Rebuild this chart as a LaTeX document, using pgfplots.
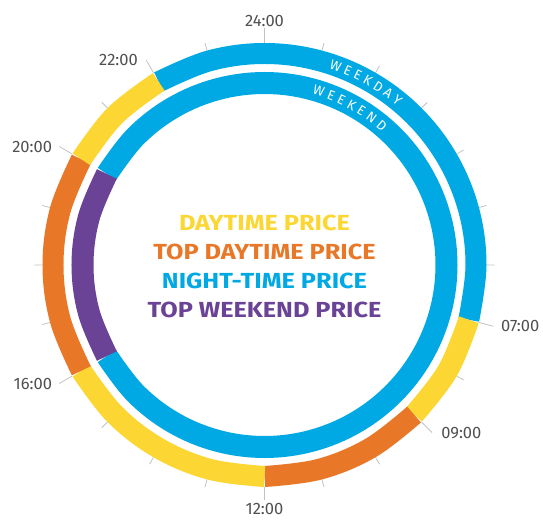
\documentclass[border=0pt]{standalone}
\usepackage{pgfplots}
\pgfplotsset{compat=1.18}
\usepgfplotslibrary{polar}
\usetikzlibrary{decorations.text}
\usepackage{fontspec}
\setmainfont{Fira Sans}
\definecolor{cyel}{RGB}{252,214,50}
\definecolor{corg}{RGB}{232,120,40}
\definecolor{cblu}{RGB}{0,169,227}
\definecolor{cpur}{RGB}{106,66,150}
\definecolor{ctick}{RGB}{195,195,195}
\definecolor{clab}{RGB}{80,80,80}
\begin{document}
\begin{tikzpicture}
\begin{polaraxis}[
  scale only axis, width=444pt, height=444pt,
  ymin=0, ymax=222, xmin=0, xmax=360,
  hide axis,
  every axis plot/.append style={x filter/.expression={90-15*x}, line cap=butt, no markers},
  ring/.style={smooth, tension=0.61},
  clip=false,
]
% hour ticks: hour, radius (jumps between ticks)
\addplot[ctick, line width=0.8pt, unbounded coords=jump] coordinates {
(0,222)(0,237)(0,nan) (1,222)(1,230)(1,nan) (2,222)(2,230)(2,nan) (3,222)(3,230)(3,nan)
(4,222)(4,230)(4,nan) (5,222)(5,230)(5,nan) (6,222)(6,230)(6,nan) (7,222)(7,237)(7,nan)
(8,222)(8,230)(8,nan) (9,222)(9,237)(9,nan) (10,222)(10,230)(10,nan) (11,222)(11,230)(11,nan)
(12,222)(12,235)(12,nan) (13,222)(13,230)(13,nan) (14,222)(14,230)(14,nan) (15,222)(15,230)(15,nan)
(16,222)(16,237)(16,nan) (17,222)(17,230)(17,nan) (18,222)(18,230)(18,nan) (19,222)(19,230)(19,nan)
(20,222)(20,237)(20,nan) (21,222)(21,230)(21,nan) (22,222)(22,237)(22,nan) (23,222)(23,230)};
% weekday ring (outer): hour, radius
\addplot[ring, cblu, line width=21pt] coordinates {(22,211.5)(23,211.5)(24,211.5)(25,211.5)(26,211.5)(27,211.5)(28,211.5)(29,211.5)(30,211.5)(31,211.5)};
\addplot[ring, cyel, line width=21pt] coordinates {(7,211.5)(8,211.5)(9,211.5)};
\addplot[ring, corg, line width=21pt] coordinates {(9,211.5)(10,211.5)(11,211.5)(12,211.5)};
\addplot[ring, cyel, line width=21pt] coordinates {(12,211.5)(13,211.5)(14,211.5)(15,211.5)(16,211.5)};
\addplot[ring, corg, line width=21pt] coordinates {(16,211.5)(17,211.5)(18,211.5)(19,211.5)(20,211.5)};
\addplot[ring, cyel, line width=21pt] coordinates {(20,211.5)(21,211.5)(22,211.5)};
% weekend ring (inner)
\addplot[ring, cblu, line width=22pt] coordinates {(20,182)(21,182)(22,182)(23,182)(24,182)(25,182)(26,182)(27,182)(28,182)(29,182)(30,182)(31,182)(32,182)(33,182)(34,182)(35,182)(36,182)(37,182)(38,182)(39,182)(40,182)};
\addplot[ring, cpur, line width=22pt] coordinates {(16,182)(17,182)(18,182)(19,182)(20,182)};
\coordinate (O) at (axis cs:0,0);
\begin{scope}[every node/.style={font=\fontsize{16.5}{16.5}\selectfont, text=clab, inner sep=0pt}]
\node[anchor=south] at (axis cs:90,238) {24:00};
\node[anchor=north] at (axis cs:270,238.5) {12:00};
\node[anchor=east, xshift=-8pt] at (axis cs:120,237) {22:00};
\node[anchor=east, xshift=-7pt] at (axis cs:150,237) {20:00};
\node[anchor=east, xshift=-7pt] at (axis cs:210,237) {16:00};
\node[anchor=west, xshift=9pt] at (axis cs:315,237) {09:00};
\node[anchor=west, xshift=7.5pt] at (axis cs:345,237) {07:00};
\end{scope}
\end{polaraxis}
\node[align=center, font=\fontsize{21.8}{29}\selectfont\bfseries, inner sep=0pt, xscale=1.16, transform shape] at ([yshift=-1pt]O) {%
\textcolor{cyel}{DAYTIME PRICE}\\
\textcolor{corg}{TOP DAYTIME PRICE}\\
\textcolor{cblu}{NIGHT-TIME PRICE}\\
\textcolor{cpur}{TOP WEEKEND PRICE}};
\path[decorate, decoration={text along path, text align=center, text color=white,
  text={|\fontsize{13.5}{13.5}\selectfont|W E E K D A Y}}]
  ([shift={(81:207pt)}]O) arc[start angle=81, end angle=41, radius=207pt];
\path[decorate, decoration={text along path, text align=center, text color=white,
  text={|\fontsize{13.5}{13.5}\selectfont|W E E K E N D}}]
  ([shift={(82:177.5pt)}]O) arc[start angle=82, end angle=41, radius=177.5pt];
\pgfresetboundingbox
\path[use as bounding box] ([shift={(-264.5pt,-254pt)}]O) rectangle ([shift={(278.5pt,265pt)}]O);
\end{tikzpicture}
\end{document}
